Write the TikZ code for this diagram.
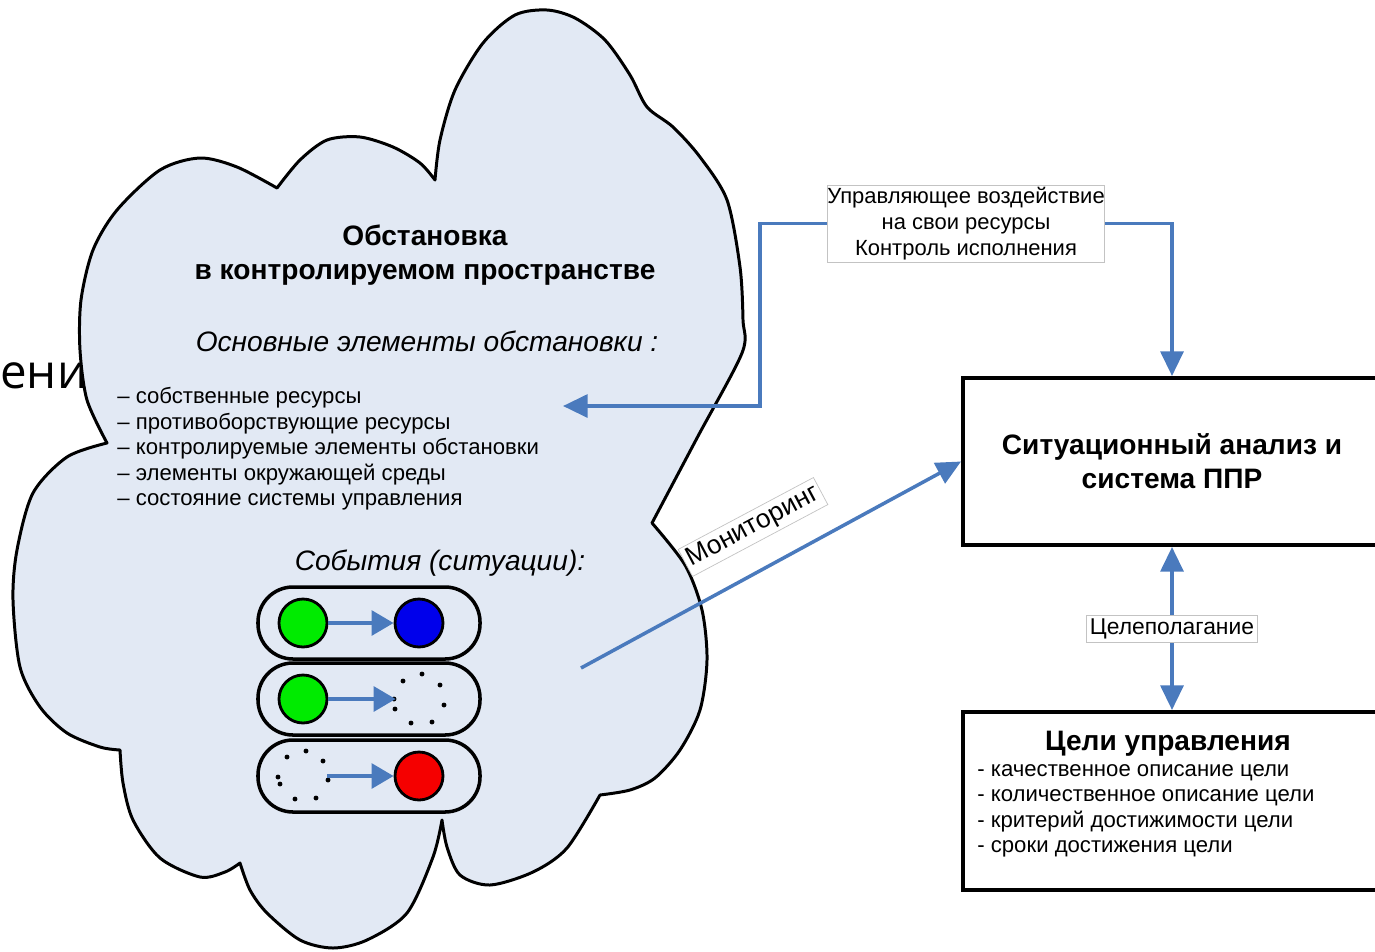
\documentclass[tikz,border=0pt]{standalone}
\usepackage{fontspec}
\setmainfont{Liberation Sans}
\newfontfamily\fragfont{Open Sans}
\usetikzlibrary{arrows.meta}
\usetikzlibrary{positioning}
\definecolor{cloudfill}{RGB}{226,233,244}
\definecolor{flowblue}{RGB}{74,122,189}
\definecolor{lblgray}{RGB}{195,195,195}
\definecolor{evgreen}{RGB}{0,235,0}
\definecolor{evblue}{RGB}{0,0,235}
\definecolor{evred}{RGB}{245,0,0}
\newcommand{\headfont}{\bfseries\fontsize{16}{19.5}\selectfont}
\newcommand{\subfont}{\itshape\fontsize{16}{19}\selectfont}
\newcommand{\listfont}{\fontsize{12.6}{14.5}\selectfont}
\newcommand{\lblfont}{\fontsize{12.5}{14.7}\selectfont}
\tikzset{
  cloudline/.style={draw=black, fill=cloudfill, line width=1.7pt, line join=round},
  pill/.style={draw=black, line width=2pt, rounded corners=0.7cm},
  evt/.style={circle, draw=black, line width=1.6pt, minimum size=0.96cm, inner sep=0pt},
  evgone/.style={circle, minimum size=0.96cm, inner sep=0pt},
  evflow/.style={draw=flowblue, line width=2.3pt, -{Triangle[length=12.5pt,width=14pt]}},
  flow/.style={draw=flowblue, line width=2pt, -{Triangle[length=14pt,width=13pt]}},
  flowboth/.style={flow, {Triangle[length=14pt,width=13pt]}-{Triangle[length=14pt,width=13pt]}},
  sysbox/.style={draw=black, line width=2.3pt, minimum width=8.36cm, align=center},
  lbl/.style={fill=white, draw=lblgray, line width=0.4pt, inner sep=2pt, align=center, font=\lblfont},
}
\begin{document}
\begin{tikzpicture}[x=0.02cm, y=-0.02cm]
\useasboundingbox (0,0) rectangle (1375,951);
% fragment behind the cloud
\node[anchor=base west, inner sep=0pt, font=\fragfont\fontsize{27}{30}\selectfont] (frag) at (0,388) {ени};
% cloud
\draw[cloudline] plot[smooth] coordinates {(277,188) (237,167) (200,158) (160,170) (117,210) (93,250) (81,300) (80,350) (87,400) (107,443)}
  -- plot[smooth] coordinates {(107,443) (67,457) (33,493) (17,550) (13,600) (20,667) (40,707) (67,733) (100,747) (120,750)}
  -- plot[smooth] coordinates {(120,750) (123,783) (133,820) (160,858) (200,877) (225,872) (240,863)}
  -- plot[smooth] coordinates {(240,863) (250,890) (267,913) (300,940) (333,948) (367,940) (407,913) (433,857) (442,820)}
  -- plot[smooth] coordinates {(442,820) (447,847) (460,875) (490,885) (533,872) (567,848) (600,795)}
  -- plot[smooth] coordinates {(600,795) (630,790) (655,778) (680,750) (700,710) (707,660) (702,610) (685,565) (652,523)}
  -- plot[smooth] coordinates {(652,523) (697,438) (742,353) (743,320) (740,267) (727,200) (700,157) (673,127) (647,107) (630,75) (605,40) (575,18) (547,10) (515,15) (483,43) (455,90) (440,140) (435,180)}
  -- plot[smooth] coordinates {(435,180) (420,163) (393,147) (360,137) (327,140) (300,160) (277,188)}
  -- cycle;
% texts in the cloud
\node[font=\headfont, align=center] (envhead) at (425,255) {Обстановка\\в контролируемом пространстве};
\node[font=\subfont] (envsub) at (427,341) {Основные элементы обстановки :};
\node[font=\listfont, align=left, anchor=north west, inner sep=0pt] (envlist) at (117,387) {– собственные ресурсы\\– противоборствующие ресурсы\\– контролируемые элементы обстановки\\– элементы окружающей среды\\– состояние системы управления};
\node[font=\subfont] (evhead) at (440,563) {События (ситуации):};
% events
\foreach \y in {623,699,776}
  \draw[pill] (258,\y-36) rectangle (480,\y+36);
\node[evt, fill=evgreen] (g1) at (303,623) {};
\node[evt, fill=evblue] (b1) at (419,623) {};
\node[evt, fill=evgreen] (g2) at (303,699) {};
\node[evgone] (n2) at (420,699) {};
\node[evgone] (n3) at (303,776) {};
\node[evt, fill=evred] (r3) at (419,776) {};
\foreach \x/\y in {422/674,403/681,440/685,394/699,395/709,444/705,411/723,432/722,306/751,287/757,323/761,278/777,280/784,328/780,295/799,316/798}
  \fill (\x,\y) circle[radius=1.4pt];
\draw[evflow] (g1) -- (b1);
\draw[evflow] (g2) -- (n2);
\draw[evflow] (n3) -- (r3);
% right part
\node[sysbox, minimum height=3.34cm, font=\headfont] (sit) at (1172,461.5) {Ситуационный анализ и\\система ППР};
\node[sysbox, minimum height=3.56cm] (goals) at (1172,801) {};
\node[font=\headfont] (goalhead) at (1168,744) {Цели управления};
\node[font=\listfont, align=left, anchor=north west, inner sep=0pt] (goallist) at (977,764) {- качественное описание цели\\- количественное описание цели\\- критерий достижимости цели\\- сроки достижения цели};
% connectors
\node[lbl, minimum width=5.46cm, minimum height=1.54cm, inner sep=0pt] (ctrl) at (966,223.5) {Управляющее воздействие\\на свои ресурсы\\Контроль исполнения};
\coordinate (envin) at (563,406);
\draw[flow] (ctrl.west) -- ++(-67,0) |- (envin);
\draw[flow] (ctrl.east) -| (sit.north);
\coordinate (mon) at (581,668);
\draw[flow] (mon) -- (sit.west);
\node[lbl, rotate=28, font=\fontsize{15}{17}\selectfont] (monlbl) at (753,527) {Мониторинг};
\draw[flowboth] (sit.south) -- node[lbl, font=\fontsize{13}{15}\selectfont] (aim) {Целеполагание} (goals.north);
\end{tikzpicture}
\end{document}
